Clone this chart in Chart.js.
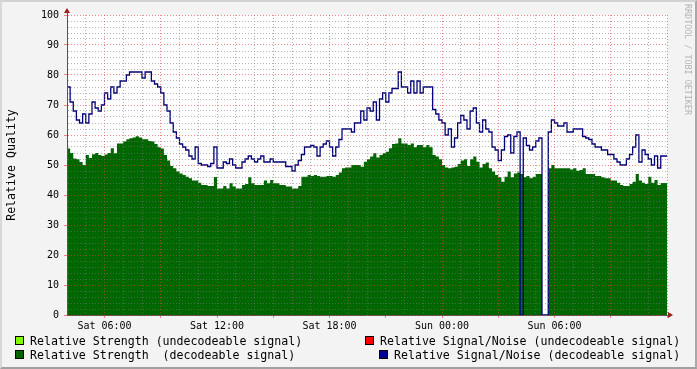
<!DOCTYPE html>
<html><head><meta charset="utf-8">
<script src="https://cdn.jsdelivr.net/npm/chart.js@4/dist/chart.umd.min.js"></script>
<style>
html,body{margin:0;padding:0;background:#f3f3f3;}
#wrap{position:relative;width:697px;height:369px;overflow:hidden;background:#f3f3f3;}
#c{position:absolute;left:0;top:0;}
.frame{position:absolute;left:0;top:0;width:697px;height:369px;box-sizing:border-box;border-style:solid;border-width:2px;border-color:#d2d2d2 #a8a8a8 #a0a0a0 #d8d8d8;pointer-events:none;}
.lg{position:absolute;font-family:"DejaVu Sans Mono",monospace;font-size:11.6px;color:#000;white-space:pre;line-height:14px;}
.sw{position:absolute;width:7px;height:7px;border:1px solid #000;}
.wm{position:absolute;left:683px;top:4px;font-family:"DejaVu Sans Mono",monospace;font-size:8.4px;line-height:9px;color:#b4b4b4;writing-mode:vertical-rl;white-space:pre;}
</style></head>
<body>
<div id="wrap">
<canvas id="c" width="697" height="369"></canvas>
<div class="wm">RRDTOOL / TOBI OETIKER</div>
<div class="sw" style="left:15px;top:336px;background:#80ff00"></div>
<div class="lg" style="left:30px;top:334px">Relative Strength (undecodeable signal)</div>
<div class="sw" style="left:15px;top:350px;background:#006600"></div>
<div class="lg" style="left:30px;top:348px">Relative Strength  (decodeable signal)</div>
<div class="sw" style="left:365px;top:336px;background:#ff0000"></div>
<div class="lg" style="left:380px;top:334px">Relative Signal/Noise (undecodeable signal)</div>
<div class="sw" style="left:379px;top:350px;background:#000090"></div>
<div class="lg" style="left:394px;top:348px">Relative Signal/Noise (decodeable signal)</div>
<div class="frame"></div>
</div>
<script>
// 10-minute samples starting Sat 04:00
const sampleStepHours = 1/6;
const startHourOfDay = 4;
const totalHours = 32;

const snrDecoded = [
 73,76,71,68,65,64,67,64,67,71,
 69,68,70,74,72,76,74,76,78,78,
 80,81,81,81,81,79,81,81,78,77,
 76,74,70,68,64,61,59,57,56,55,
 53,52,56,50.5,50,50,49.5,50.5,56,49,
 49,51,50.5,52,50,49,49,51,52,53,
 52,51,52,53,51,51,52,51,51,51,
 51,49.5,49.5,48,50,51.5,53.5,56,56,56.5,
 56,53,56,57,58,56,53,56,58.5,62,
 62,62,61,64,64,68,65,69,68,71,
 65,72,74,71,74,75.5,75.5,81,76,76,
 74,78,74,78,74,76,76,76,68.5,67,
 65,64,60,62,56,59,64,66.5,65,62,
 68,69,64,61,65,62,61,56,55,51.5,
 55,59.5,60,54,59.5,61,0,59,56.5,55,
 56,58,59,0,0,61,65,64,63,63,
 64,61,61,62,62,62,59.5,59,58.5,57,
 56,56,55,55,53.5,53.5,52,51,50,50,
 52,53.5,56,60,51,55,53.5,52,50,53,
 49,53
];
const strengthDecoded = [
 55.6,55.5,54,52.2,51.9,51,50,53.3,52.3,53.6,
 54,53.3,53,53.5,54,55.6,53.9,57.2,57.2,57.8,
 58.6,58.9,59.2,59.6,59.2,58.6,58.6,58,57.8,57,
 55.9,55.5,53.3,51.5,49.7,48.9,47.8,47.2,46.7,46.1,
 45.6,44.8,44.8,44.1,43.3,43.3,43,43,46,42.2,
 42.2,43,42.2,43.9,42.8,42.2,42.2,43.3,43.7,45.9,
 43.9,43.3,43.3,43.3,44.8,43.9,45,43.9,43.9,43.3,
 43.3,42.8,42.8,42.2,42.2,43,46.1,46.1,46.7,46.3,
 46.7,46.3,46.1,46.1,46.3,46.3,46.1,46.7,47.5,48.9,
 49.2,49.2,50,50,50,49.4,51.1,51.9,52.8,53.9,
 52.5,53.3,53.9,54.4,55.6,57,57.2,58.9,57.2,57.2,
 56.7,57.2,55.9,56.7,56.7,55.9,56.7,55.9,53.3,52.8,
 51.9,50,49.2,48.9,49.2,49.4,50.3,51.5,51.9,49.7,
 51.9,52.8,51.1,49.2,50.3,50.8,48.9,47.8,46.7,45.9,
 44.4,46.1,47.8,45.9,47.2,47.5,47,45.9,46.3,45.6,
 46.1,47,47,0,0,48.9,50,48.9,48.9,48.9,
 48.9,48.9,48.5,48.9,48.1,48.3,48.9,47,47,47,
 46.3,46.3,45.9,45.6,45.6,44.8,44.8,44.1,43.3,43,
 43,43.7,44.4,47,44.8,44.1,43.7,46.1,44.1,45,
 43.3,44
];
const strengthUndecoded = [];
const snrUndecoded = [];

const xTickHours = [2, 8, 14, 20, 26];
const xTickLabels = ['Sat 06:00', 'Sat 12:00', 'Sat 18:00', 'Sun 00:00', 'Sun 06:00'];
const yTickValues = [0,10,20,30,40,50,60,70,80,90,100];

function toPoints(arr){
  const pts = arr.map((v,i)=>({x:i*sampleStepHours, y:v}));
  if (arr.length) pts.push({x:arr.length*sampleStepHours, y:arr[arr.length-1]});
  return pts;
}

const MINOR = 'rgba(120,120,120,0.55)';
const MAJOR = 'rgba(225,60,60,0.6)';
const FONT = '"DejaVu Sans Mono", monospace';

const bgPlugin = {
  id:'bg',
  beforeDraw(chart){
    const {ctx, chartArea:a} = chart;
    ctx.save();
    ctx.fillStyle = '#ffffff';
    ctx.fillRect(a.left, a.top, a.right-a.left, a.bottom-a.top);
    ctx.restore();
  },
  afterDraw(chart){
    const {ctx, chartArea:a} = chart;
    ctx.save();
    ctx.fillStyle = '#a01818';
    ctx.beginPath();
    ctx.moveTo(a.left, a.top-7); ctx.lineTo(a.left-3, a.top-2); ctx.lineTo(a.left+3, a.top-2); ctx.closePath(); ctx.fill();
    ctx.beginPath();
    ctx.moveTo(a.right+6, a.bottom); ctx.lineTo(a.right+1, a.bottom-3); ctx.lineTo(a.right+1, a.bottom+3); ctx.closePath(); ctx.fill();
    ctx.strokeStyle = '#555'; ctx.lineWidth = 1;
    ctx.beginPath(); ctx.moveTo(a.left+0.5, a.top); ctx.lineTo(a.left+0.5, a.top-3); ctx.stroke();
    ctx.beginPath(); ctx.moveTo(a.right, a.bottom+0.5); ctx.lineTo(a.right+2, a.bottom+0.5); ctx.stroke();
    ctx.restore();
  }
};

new Chart(document.getElementById('c'), {
  type:'line',
  data:{ datasets:[
    { label:'Relative Signal/Noise (decodeable signal)', data:toPoints(snrDecoded), stepped:'after', borderColor:'#00007a', borderWidth:1.3, pointRadius:0, fill:false, order:0 },
    { label:'Relative Signal/Noise (undecodeable signal)', data:toPoints(snrUndecoded), stepped:'after', borderColor:'#ff0000', borderWidth:1, pointRadius:0, fill:false, order:1 },
    { label:'Relative Strength (undecodeable signal)', data:toPoints(strengthUndecoded), stepped:'after', borderColor:'rgba(0,0,0,0)', backgroundColor:'#80ff00', borderWidth:1, pointRadius:0, fill:'origin', order:2 },
    { label:'Relative Strength  (decodeable signal)', data:toPoints(strengthDecoded), stepped:'after', borderColor:'rgba(0,0,0,0)', backgroundColor:'#006600', borderWidth:1, pointRadius:0, fill:'origin', order:3 }
  ]},
  plugins:[bgPlugin],
  options:{
    responsive:false, animation:false, devicePixelRatio:1,
    layout:{ padding:{ left:0, top:15, right:30, bottom:34 } },
    plugins:{ legend:{display:false}, tooltip:{enabled:false}, title:{display:false} },
    scales:{
      x:{
        type:'linear', min:0, max:totalHours,
        afterFit(s){ s.height = 20; },
        ticks:{ stepSize:1, autoSkip:false, maxRotation:0, minRotation:0, padding:2,
          font:{family:FONT, size:10}, color:'#000',
          callback(v){ const k = xTickHours.indexOf(v); return k >= 0 ? xTickLabels[k] : ''; } },
        grid:{ z:1, drawTicks:true, tickLength:3,
          color(ctx){ return ((ctx.tick.value + startHourOfDay) % 3 === 0) ? MAJOR : MINOR; },
          tickColor(ctx){ return ((ctx.tick.value + startHourOfDay) % 3 === 0) ? MAJOR : 'rgba(0,0,0,0)'; } },
        border:{ z:1, display:true, color:'#555', width:1, dash:[1,2] }
      },
      y:{
        type:'linear', min:0, max:100,
        afterFit(s){ s.width = 67; },
        title:{ display:true, text:'Relative Quality', font:{family:FONT, size:11.6}, color:'#000', padding:{top:5,bottom:0} },
        ticks:{ stepSize:2, autoSkip:false, padding:5, font:{family:FONT, size:10}, color:'#000',
          callback(v){ return yTickValues.includes(v) ? String(v) : ''; } },
        grid:{ z:1, drawTicks:true, tickLength:3,
          color(ctx){ return (ctx.tick.value % 10 === 0) ? MAJOR : MINOR; },
          tickColor(ctx){ return (ctx.tick.value % 10 === 0) ? MAJOR : 'rgba(0,0,0,0)'; } },
        border:{ z:1, display:true, color:'#555', width:1, dash:[1,2] }
      }
    }
  }
});
</script>
</body></html>
